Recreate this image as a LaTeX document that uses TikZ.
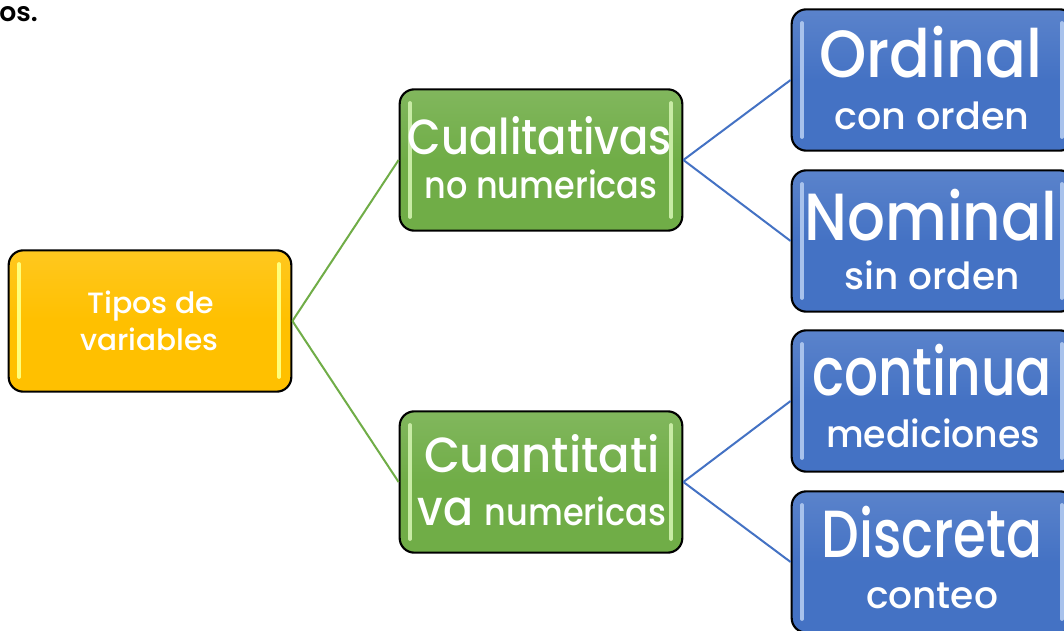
\documentclass[tikz,border=0pt]{standalone}
\usepackage{fontspec}
\usepackage{graphicx}
\setmainfont{Poppins}[UprightFont={* Medium}]
\newfontfamily\boldf{Poppins SemiBold}
\definecolor{cyel}{HTML}{FFC000}
\definecolor{cgrn}{HTML}{70AD47}
\definecolor{cblu}{HTML}{4472C4}
\definecolor{hyel}{HTML}{FFFF7A}
\definecolor{hgrn}{HTML}{C8EBA5}
\definecolor{hblu}{HTML}{A8C2EC}
\newcommand\fitw[2]{\resizebox{\dimexpr #1pt*3/4\relax}{\height}{#2}}
\begin{document}
\begin{tikzpicture}[x=0.75pt,y=-0.75pt,
  boxs/.style={draw=black,line width=1.6pt,rounded corners=11pt,minimum width=212pt,minimum height=106pt,inner sep=0pt},
  ybox/.style={boxs,top color=cyel!88!white,bottom color=cyel,middle color=cyel},
  gbox/.style={boxs,top color=cgrn!88!white,bottom color=cgrn,middle color=cgrn},
  bbox/.style={boxs,top color=cblu!88!white,bottom color=cblu,middle color=cblu},
  hl/.style={line width=2.8pt,line cap=round},
  txt/.style={text=white,anchor=base,inner sep=0pt},
  big/.style={txt,font=\fontsize{50}{50}\selectfont},
  mid/.style={txt,font=\fontsize{37}{37}\selectfont},
  sml/.style={txt,font=\fontsize{28}{28}\selectfont},
  ytx/.style={txt,font=\fontsize{22}{22}\selectfont},
  gcon/.style={draw=cgrn,line width=1.5pt},
  bcon/.style={draw=cblu,line width=1.5pt}]
\clip (0,0) rectangle (1064,631);
\useasboundingbox (0,0) rectangle (1064,631);
\fill[white] (0,0) rectangle (1064,631);
% boxes
\node[ybox] (tipos) at (150,321) {};
\node[gbox] (cual) at (541,160) {};
\node[gbox] (cuan) at (541,482) {};
\node[bbox] (ord) at (933,80) {};
\node[bbox] (nom) at (933,241) {};
\node[bbox] (cont) at (933,401) {};
\node[bbox] (disc) at (933,562) {};
% highlights
\draw[hl,hyel] (19,264) -- (19,377); \draw[hl,hyel] (279,264) -- (279,377);
\foreach \yy in {160,482}{
  \draw[hl,hgrn] (410,\yy-57) -- (410,\yy+57);
  \draw[hl,hgrn] (671,\yy-57) -- (671,\yy+57);}
\foreach \yy in {80,241,401,562}{
  \draw[hl,hblu] (802,\yy-57) -- (802,\yy+57);
  \draw[hl,hblu] (1062,\yy-57) -- (1062,\yy+57);}
% connectors
\draw[gcon] (tipos.east) -- (cual.west);
\draw[gcon] (tipos.east) -- (cuan.west);
\draw[bcon] (cual.east) -- (ord.west);
\draw[bcon] (cual.east) -- (nom.west);
\draw[bcon] (cuan.east) -- (cont.west);
\draw[bcon] (cuan.east) -- (disc.west);
% texts
\node[ytx] (t1) at (151,313) {\fitw{127}{Tipos de}};
\node[ytx] (t2) at (149,350) {\fitw{138}{variables}};
\node[mid] (c1) at (540,155) {\fitw{264}{Cualitativas}};
\node[sml] (c2) at (541,199) {\fitw{233}{no numericas}};
\node[mid] (q1) at (542,472) {\fitw{236}{Cuantitati}};
\node[txt] (q2) at (542,525) {\fitw{249}{\fontsize{37}{37}\selectfont va \fontsize{28}{28}\selectfont numericas}};
\node[big] (o1) at (931,78) {\fitw{223}{Ordinal}};
\node[sml] (o2) at (932,130) {\fitw{195}{con orden}};
\node[big] (n1) at (931,240) {\fitw{253}{Nominal}};
\node[sml] (n2) at (932,290) {\fitw{175}{sin orden}};
\node[big] (k1) at (932,395) {\fitw{240}{continua}};
\node[sml] (k2) at (933,447) {\fitw{214}{mediciones}};
\node[big] (d1) at (932,557) {\fitw{221}{Discreta}};
\node[sml] (d2) at (932,608) {\fitw{132}{conteo}};
\node[anchor=base west,inner sep=0pt,font=\boldf\fontsize{20}{20}\selectfont] (os) at (-1,22) {os.};
\end{tikzpicture}
\end{document}
